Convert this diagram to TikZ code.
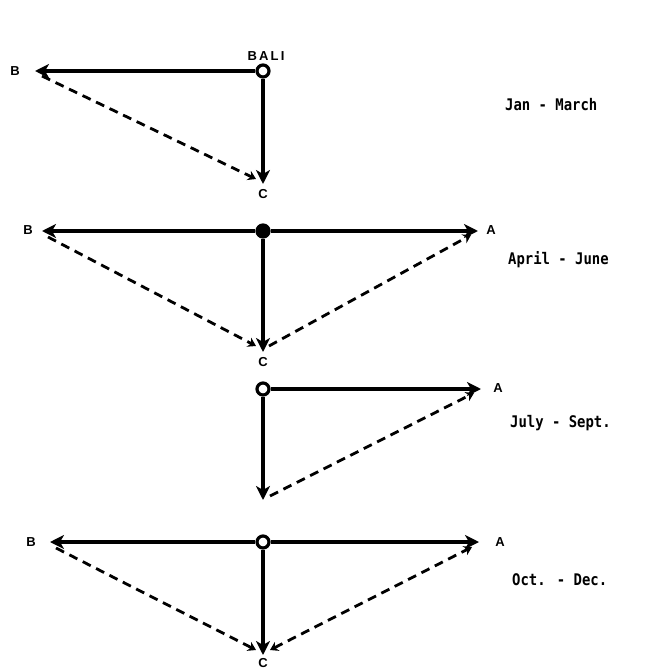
\documentclass[tikz,border=0pt]{standalone}
\usepackage{fontspec}
\setsansfont{Liberation Sans}
\newfontfamily\monthfont{DejaVu Sans Mono}
\usetikzlibrary{arrows.meta}
\begin{document}
\begin{tikzpicture}[x=1pt,y=-1pt,
  main/.style={line width=3.4pt,-{Stealth[length=14pt,width=14pt,inset=4pt]}},
  dash line/.style={line width=2.8pt,dash pattern=on 9pt off 6pt,-{Stealth[length=8pt,width=10pt]}},
  dash both/.style={line width=2.8pt,dash pattern=on 9pt off 6pt,{Stealth[length=8pt,width=10pt]}-{Stealth[length=8pt,width=10pt]}},
  lbl/.style={font=\sffamily\bfseries\fontsize{13}{13}\selectfont,inner sep=0pt},
  month/.style={font=\monthfont\bfseries\fontsize{16}{16}\selectfont,inner sep=0pt,xscale=0.87,anchor=west},
  hub open/.style={circle,draw,line width=3.2pt,fill=white,minimum size=12pt,inner sep=0pt},
  hub full/.style={circle,draw,line width=3.2pt,fill=black,minimum size=12pt,inner sep=0pt}]
\useasboundingbox (0,0) rectangle (666,671);

% Panel 1: Jan - March
\node[hub open] (o1) at (263,71) {};
\coordinate (b1) at (35,71);
\coordinate (c1) at (263,184);
\node[lbl] (B1) at (15,71) {B};
\node[lbl] (C1) at (263,194) {C};
\node[lbl] (bali) at (266,56) {B\,A\,L\,I};
\draw[main] (o1) -- (b1);
\draw[main] (o1) -- (c1);
\draw[dash line] (42,76) -- (256,179);
\node[month] (m1) at (505,105) {Jan - March};

% Panel 2: April - June
\node[hub full] (o2) at (263,231) {};
\coordinate (b2) at (42,231);
\coordinate (a2) at (478,231);
\coordinate (c2) at (263,352);
\node[lbl] (B2) at (28,230) {B};
\node[lbl] (A2) at (491,230) {A};
\node[lbl] (C2) at (263,362) {C};
\draw[main] (o2) -- (b2);
\draw[main] (o2) -- (a2);
\draw[main] (o2) -- (c2);
\draw[dash line] (48,237) -- (256,346);
\draw[dash line] (269,346) -- (471,235);
\node[month] (m2) at (508,260) {Apr{i}l - June};

% Panel 3: July - Sept.
\node[hub open] (o3) at (263,389) {};
\coordinate (a3) at (481,389);
\coordinate (c3) at (263,500);
\node[lbl] (A3) at (498,388) {A};
\draw[main] (o3) -- (a3);
\draw[main] (o3) -- (c3);
\draw[dash line] (270,496) -- (474,393);
\node[month] (m3) at (510,423) {July - Sept.};

% Panel 4: Oct. - Dec.
\node[hub open] (o4) at (263,542) {};
\coordinate (b4) at (50,542);
\coordinate (a4) at (479,542);
\coordinate (c4) at (263,655);
\node[lbl] (B4) at (31,542) {B};
\node[lbl] (A4) at (500,542) {A};
\node[lbl] (C4) at (263,663) {C};
\draw[main] (o4) -- (b4);
\draw[main] (o4) -- (a4);
\draw[main] (o4) -- (c4);
\draw[dash line] (56,548) -- (256,650);
\draw[dash both] (270,650) -- (472,547);
\node[month] (m4) at (512,580) {Oct. - Dec.};
\end{tikzpicture}
\end{document}
